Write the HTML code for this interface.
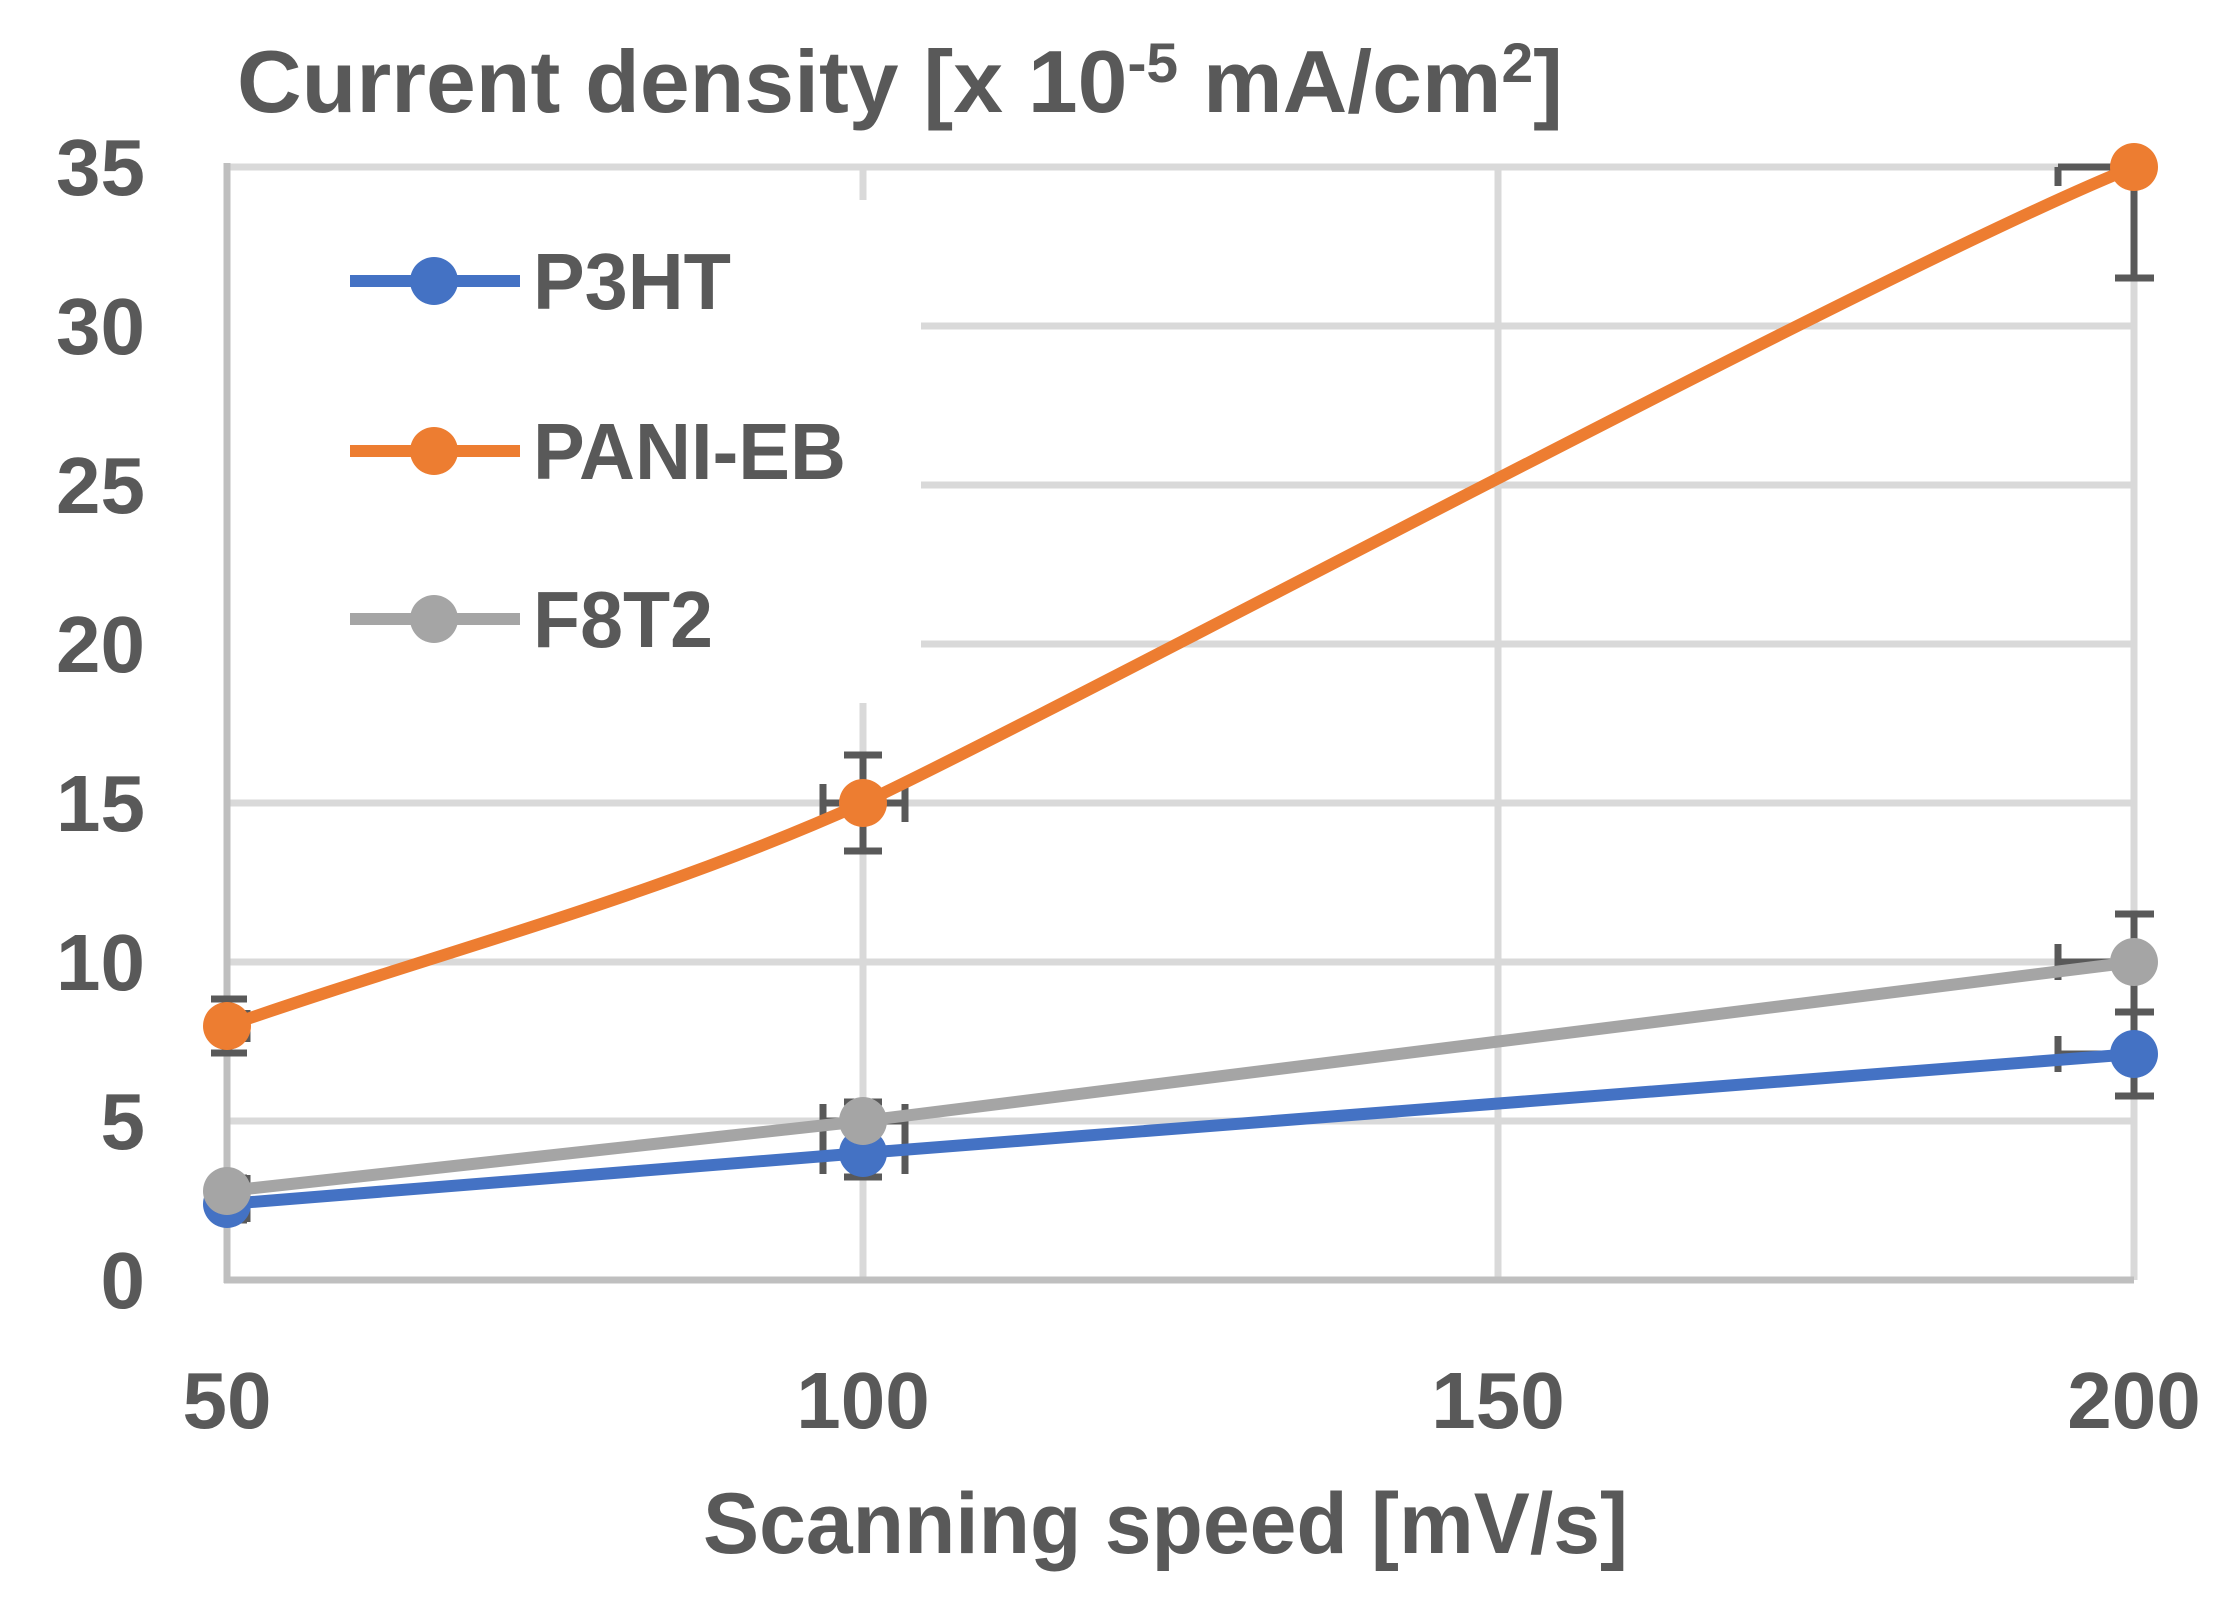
<!DOCTYPE html>
<html><head><meta charset="utf-8"><style>
html,body{margin:0;padding:0;background:#fff;}
svg{display:block;}
text{font-family:"Liberation Sans",sans-serif;font-weight:bold;fill:#595959;}
</style></head><body>
<svg width="2230" height="1603" viewBox="0 0 2230 1603" xmlns="http://www.w3.org/2000/svg">
<rect width="2230" height="1603" fill="#fff"/>
<g stroke="#d9d9d9" stroke-width="7">
<line x1="227" y1="167" x2="2134" y2="167"/>
<line x1="227" y1="326" x2="2134" y2="326"/>
<line x1="227" y1="485" x2="2134" y2="485"/>
<line x1="227" y1="644" x2="2134" y2="644"/>
<line x1="227" y1="803" x2="2134" y2="803"/>
<line x1="227" y1="962" x2="2134" y2="962"/>
<line x1="227" y1="1121" x2="2134" y2="1121"/>
<line x1="863" y1="167" x2="863" y2="1280"/>
<line x1="1498" y1="167" x2="1498" y2="1280"/>
<line x1="2134" y1="167" x2="2134" y2="1280"/>
</g>
<rect x="230" y="200" width="691" height="503" fill="#fff"/>
<g stroke="#bfbfbf" stroke-width="7">
<line x1="227" y1="163" x2="227" y2="1283"/>
<line x1="224" y1="1280" x2="2134" y2="1280"/>
</g>
<g stroke="#595959" stroke-width="7" fill="none">
<path d="M227,999 V1053 M211,999 H247 M211,1053 H247 M227,1026 H250 M247,1010 V1042"/>
<path d="M863,755 V851 M844,755 H882 M844,851 H882 M823,803 H905 M823,784 V822 M905,784 V822"/>
<path d="M2134,167 V278 M2115,278 H2154 M2058,167 H2134 M2058,167 V186"/>
<path d="M863,1102 V1178 M844,1102 H882 M823,1121 H905 M823,1104 V1174 M905,1104 V1174 M844,1177 H882"/>
<path d="M2134,914 V1012 M2115,914 H2154 M2115,1012 H2154 M2058,962 H2134 M2058,944 V980"/>
<path d="M2134,1010 V1096 M2115,1096 H2154 M2058,1054 H2134 M2058,1036 V1072"/>
<path d="M227,1175 V1220 M227,1178 H247 M227,1220 H247 M247,1175 V1222"/>
</g>
<polyline points="227,1204 863,1153 2134,1054" fill="none" stroke="#4472c4" stroke-width="12"/>
<polyline points="227,1191 863,1121 2134,962" fill="none" stroke="#a5a5a5" stroke-width="12"/>
<path d="M227,1026 C439,952 650,899 863,803 C1100,690 1900,260 2134,167" fill="none" stroke="#ed7d31" stroke-width="12"/>
<g fill="#4472c4"><circle cx="227" cy="1204" r="24"/><circle cx="863" cy="1153" r="24"/><circle cx="2134" cy="1054" r="24"/></g>
<g fill="#a5a5a5"><circle cx="227" cy="1191" r="24"/><circle cx="863" cy="1121" r="24"/><circle cx="2134" cy="962" r="24"/></g>
<g fill="#ed7d31"><circle cx="227" cy="1026" r="24"/><circle cx="863" cy="803" r="24"/><circle cx="2134" cy="167" r="24"/></g>
<line x1="350" y1="281" x2="520" y2="281" stroke="#4472c4" stroke-width="12"/><circle cx="434" cy="281" r="24" fill="#4472c4"/>
<line x1="350" y1="451" x2="520" y2="451" stroke="#ed7d31" stroke-width="12"/><circle cx="434" cy="451" r="24" fill="#ed7d31"/>
<line x1="350" y1="619" x2="520" y2="619" stroke="#a5a5a5" stroke-width="12"/><circle cx="434" cy="619" r="24" fill="#a5a5a5"/>
<text x="533" y="309" font-size="80" textLength="198" lengthAdjust="spacingAndGlyphs">P3HT</text>
<text x="533" y="479" font-size="80" textLength="313" lengthAdjust="spacingAndGlyphs">PANI-EB</text>
<text x="533" y="647" font-size="80" textLength="180" lengthAdjust="spacingAndGlyphs">F8T2</text>
<g font-size="80" text-anchor="end">
<text x="145" y="195">35</text>
<text x="145" y="354">30</text>
<text x="145" y="513">25</text>
<text x="145" y="672">20</text>
<text x="145" y="831">15</text>
<text x="145" y="990">10</text>
<text x="145" y="1149">5</text>
<text x="145" y="1308">0</text>
</g>
<g font-size="80" text-anchor="middle">
<text x="227" y="1428">50</text>
<text x="863" y="1428">100</text>
<text x="1498" y="1428">150</text>
<text x="2134" y="1428">200</text>
</g>
<text x="237" y="112" font-size="88" textLength="1326" lengthAdjust="spacingAndGlyphs">Current density [x 10<tspan dy="-30" font-size="56">-5</tspan><tspan dy="30"> mA/cm</tspan><tspan dy="-30" font-size="56">2</tspan><tspan dy="30">]</tspan></text>
<text x="703" y="1553" font-size="86" textLength="925" lengthAdjust="spacingAndGlyphs">Scanning speed [mV/s]</text>
</svg>
</body></html>
